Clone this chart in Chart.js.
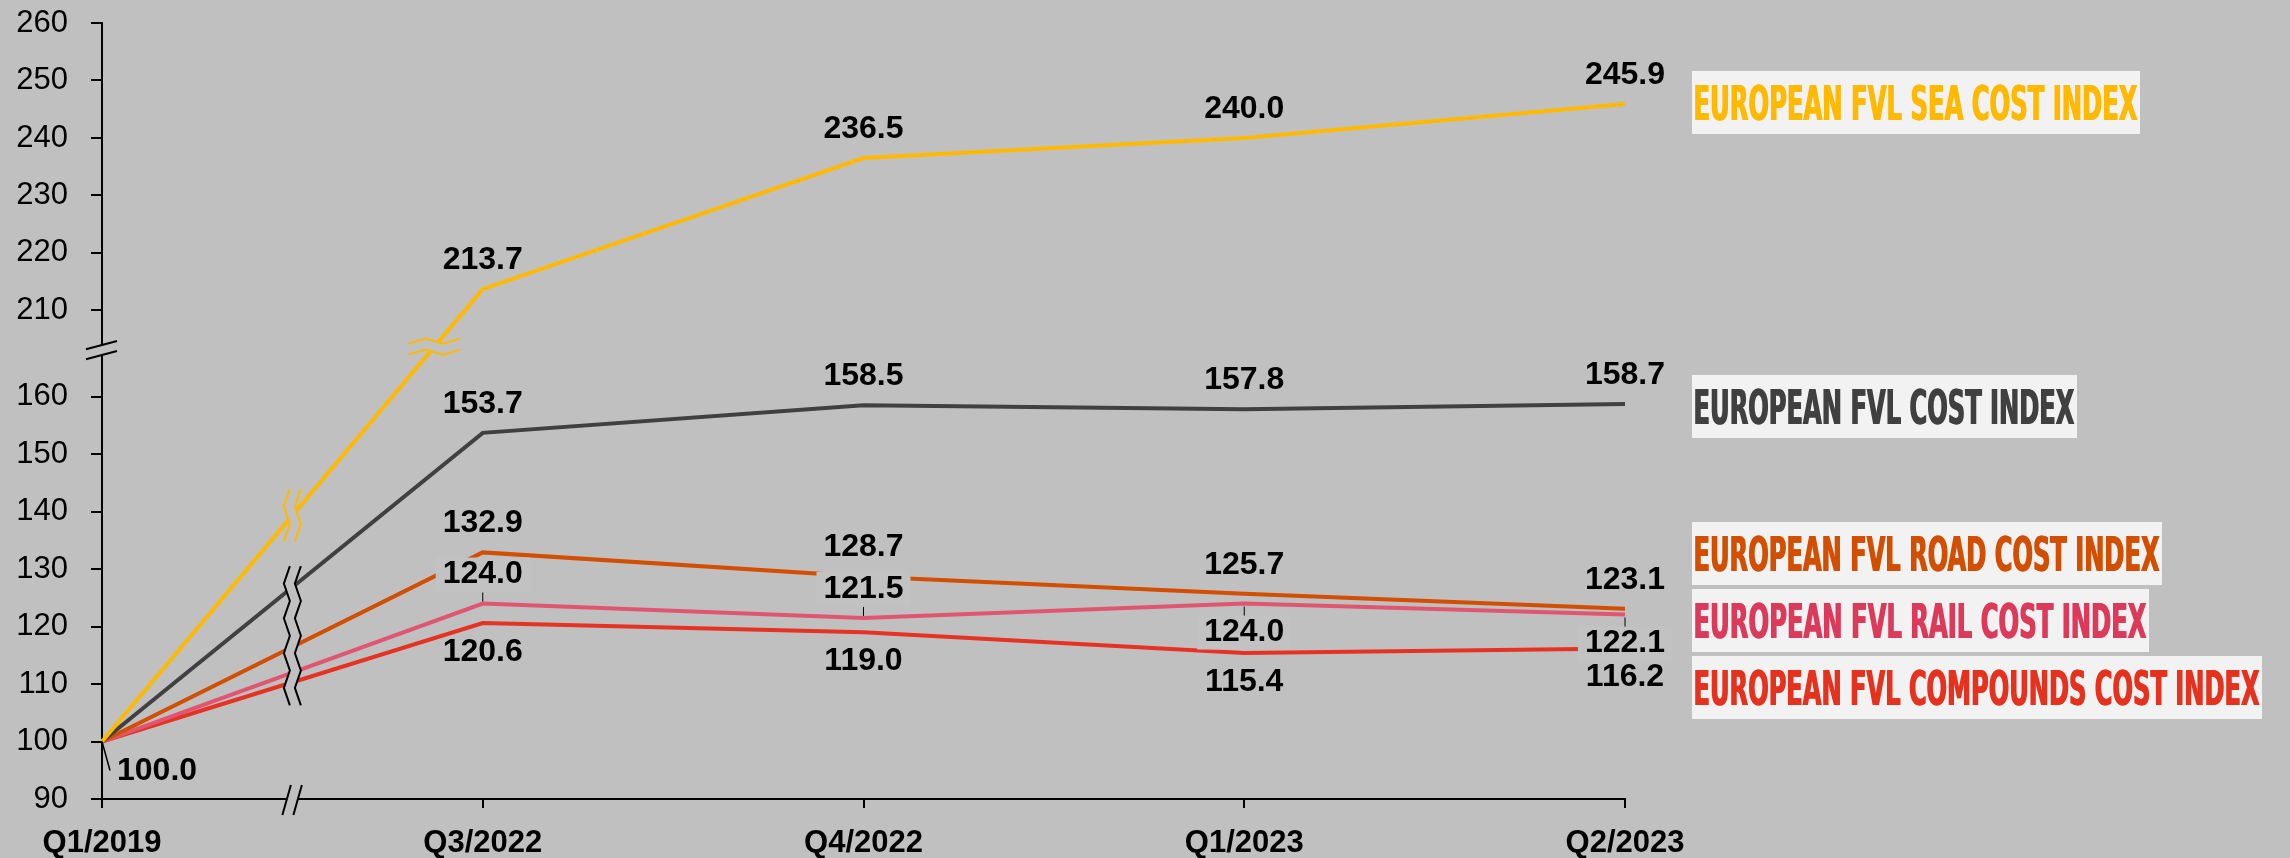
<!DOCTYPE html>
<html>
<head>
<meta charset="utf-8">
<script src="https://cdn.jsdelivr.net/npm/chart.js@4.4.0/dist/chart.umd.min.js"></script>
<style>
  html, body { margin: 0; padding: 0; background: #c0c0c0; }
  #wrap { width: 2290px; height: 858px; }
</style>
</head>
<body>
<div id="wrap"><canvas id="chart" width="2290" height="858"></canvas></div>
<script>
// data
const quarters = ["Q1/2019", "Q3/2022", "Q4/2022", "Q1/2023", "Q2/2023"];
const seaIndex = [100.0, 213.7, 236.5, 240.0, 245.9];
const costIndex = [100.0, 153.7, 158.5, 157.8, 158.7];
const roadIndex = [100.0, 132.9, 128.7, 125.7, 123.1];
const railIndex = [100.0, 124.0, 121.5, 124.0, 122.1];
const compoundsIndex = [100.0, 120.6, 119.0, 115.4, 116.2];
const seriesNames = [
  "European FVL Sea Cost Index",
  "European FVL Cost Index",
  "European FVL Road Cost Index",
  "European FVL Rail Cost Index",
  "European FVL Compounds Cost Index",
];
const lowerTicks = [90, 100, 110, 120, 130, 140, 150, 160];
const upperTicks = [210, 220, 230, 240, 250, 260];

// broken y axis: everything from 210 up is pulled down by 35
const breakShift = 35;
const toAxis = (v) => (v >= 200 ? v - breakShift : v);
const fromAxis = (v) => (v > 170 ? v + breakShift : v);
const axisBreakAt = 168.7;

// styles
const FONT = '"Liberation Sans", Arial, sans-serif';
const BG = "#c0c0c0";
const lineColors = ["#ffb900", "#404040", "#d24e00", "#e05670", "#e53222"];
const legendColors = ["#ffb900", "#404040", "#d24e00", "#dc3a5a", "#e5321f"];
const legendTop = [71, 375, 522, 589, 656];
const legendWidth = [448, 385, 470, 457, 570];
const labelSides = [
  ["", "up", "up", "up", "up"],
  ["", "up", "up", "up", "up"],
  ["", "up", "up", "up", "up"],
  ["", "up", "up", "down", "down"],
  ["corner", "down", "down", "down", "down"],
];

function zigPath(ctx, pts) {
  ctx.moveTo(pts[0][0], pts[0][1]);
  for (let k = 1; k < pts.length; k++) ctx.lineTo(pts[k][0], pts[k][1]);
}

// two vertical zigzags with the lines cut out between them
function vGap(ctx, cx, top, bottom, color) {
  const n = Math.max(2, Math.round((bottom - top) / 17.5));
  const left = [], right = [];
  for (let k = 0; k <= n; k++) {
    const yy = top + (k * (bottom - top)) / n;
    const a = k % 2 === 0 ? 3 : -3;
    left.push([cx - 5.5 + a, yy]);
    right.push([cx + 5.5 + a, yy]);
  }
  ctx.beginPath();
  zigPath(ctx, left);
  right.slice().reverse().forEach((p) => ctx.lineTo(p[0], p[1]));
  ctx.closePath();
  ctx.fillStyle = BG;
  ctx.fill();
  ctx.strokeStyle = color;
  ctx.lineWidth = 2;
  ctx.beginPath(); zigPath(ctx, left); ctx.stroke();
  ctx.beginPath(); zigPath(ctx, right); ctx.stroke();
}

// two horizontal zigzags
function hGap(ctx, cx, cy, color) {
  const upper = [], lower = [];
  for (let k = 0; k <= 3; k++) {
    const xx = cx - 26 + k * 17.3;
    const a = k % 2 === 0 ? 2.5 : -2.5;
    upper.push([xx, cy - 5.5 + a]);
    lower.push([xx, cy + 5.5 + a]);
  }
  ctx.beginPath();
  zigPath(ctx, upper);
  lower.slice().reverse().forEach((p) => ctx.lineTo(p[0], p[1]));
  ctx.closePath();
  ctx.fillStyle = BG;
  ctx.fill();
  ctx.strokeStyle = color;
  ctx.lineWidth = 2;
  ctx.beginPath(); zigPath(ctx, upper); ctx.stroke();
  ctx.beginPath(); zigPath(ctx, lower); ctx.stroke();
}

function slashPair(ctx, a1, a2, b1, b2) {
  ctx.beginPath();
  ctx.moveTo(a1[0], a1[1]); ctx.lineTo(a2[0], a2[1]);
  ctx.lineTo(b2[0], b2[1]); ctx.lineTo(b1[0], b1[1]);
  ctx.closePath();
  ctx.fillStyle = BG;
  ctx.fill();
  ctx.strokeStyle = "#000";
  ctx.lineWidth = 2;
  ctx.beginPath(); ctx.moveTo(a1[0], a1[1]); ctx.lineTo(a2[0], a2[1]); ctx.stroke();
  ctx.beginPath(); ctx.moveTo(b1[0], b1[1]); ctx.lineTo(b2[0], b2[1]); ctx.stroke();
}

const decorPlugin = {
  id: "decor",
  beforeDraw(chart) {
    const ctx = chart.ctx;
    ctx.save();
    ctx.fillStyle = BG;
    ctx.fillRect(0, 0, chart.width, chart.height);
    ctx.restore();
  },
  afterDatasetsDraw(chart) {
    const ctx = chart.ctx;
    const { x, y } = chart.scales;
    const metas = chart.data.datasets.map((d, i) => chart.getDatasetMeta(i).data);
    ctx.save();

    // breaks between Q1/2019 and Q3/2022
    const xm = (x.getPixelForValue(0) + x.getPixelForValue(1)) / 2;
    const midY = (i) => (metas[i][0].y + metas[i][1].y) / 2;
    const others = [1, 2, 3, 4].map(midY);
    vGap(ctx, xm, Math.min(...others) - 21, Math.max(...others) + 23, "#000");
    vGap(ctx, xm, midY(0) - 26, midY(0) + 26, lineColors[0]);

    // sea line crosses the y-axis break
    const yb = y.getPixelForValue(axisBreakAt);
    const p0 = metas[0][0], p1 = metas[0][1];
    const t = (yb - p0.y) / (p1.y - p0.y);
    hGap(ctx, p0.x + t * (p1.x - p0.x), yb, lineColors[0]);

    // y-axis break marks
    const ax = chart.chartArea.left;
    slashPair(ctx, [ax - 16, yb - 1.5 + 4.2], [ax + 15, yb - 1.5 - 4.2],
      [ax - 16, yb + 10 + 4.2 - 1.5], [ax + 15, yb + 10 - 4.2 - 1.5]);

    // x-axis break marks
    const by = chart.chartArea.bottom;
    slashPair(ctx, [xm - 10, by + 16], [xm - 1.5, by - 14], [xm + 1, by + 16], [xm + 9.5, by - 14]);

    // value labels
    ctx.font = "bold 32px " + FONT;
    ctx.textBaseline = "middle";
    const jobs = [];
    chart.data.datasets.forEach((ds, i) => {
      ds.values.forEach((v, j) => {
        const side = labelSides[i][j];
        if (!side) return;
        const p = metas[i][j];
        const txt = v.toFixed(1);
        if (side === "corner") {
          ctx.strokeStyle = "#000";
          ctx.lineWidth = 1.5;
          ctx.beginPath(); ctx.moveTo(p.x, p.y); ctx.lineTo(p.x + 8, p.y + 29); ctx.stroke();
          jobs.push([txt, p.x + 15, p.y + 30, "left"]);
          return;
        }
        const up = side === "up";
        const ly = p.y + (up ? -29 : 29);
        if (ds.boxedLabels) {
          const w = ctx.measureText(txt).width + 14;
          ctx.fillStyle = "#c2c2c2";
          ctx.fillRect(p.x - w / 2, ly - 17, w, 34);
          ctx.strokeStyle = "#000";
          ctx.lineWidth = 1;
          ctx.beginPath();
          if (up) { ctx.moveTo(p.x, p.y - 11); ctx.lineTo(p.x, p.y - 2); }
          else { ctx.moveTo(p.x, p.y + 3); ctx.lineTo(p.x, p.y + 12); }
          ctx.stroke();
        }
        jobs.push([txt, p.x, ly, "center"]);
      });
    });
    ctx.fillStyle = "#000";
    jobs.forEach((jb) => {
      ctx.textAlign = jb[3];
      ctx.fillText(jb[0], jb[1], jb[2]);
    });
    ctx.restore();
  },
  afterDraw(chart) {
    // series names in boxes to the right
    const ctx = chart.ctx;
    const left = chart.chartArea.right + 67;
    ctx.save();
    seriesNames.forEach((name, i) => {
      const top = legendTop[i], w = legendWidth[i], h = 63;
      ctx.fillStyle = "#f2f2f2";
      ctx.fillRect(left, top, w, h);
      const txt = name.toUpperCase();
      ctx.font = 'bold 48px "Liberation Sans Narrow", "DejaVu Sans Condensed", sans-serif';
      ctx.textBaseline = "alphabetic";
      ctx.textAlign = "left";
      const mw = ctx.measureText(txt).width;
      const sx = (w - 4) / mw;
      ctx.fillStyle = legendColors[i];
      for (let d = 0; d <= 1; d++) {
        ctx.save();
        ctx.translate(left + 1 + d, top + 49);
        ctx.scale(sx, 1);
        ctx.fillText(txt, 0, 0);
        ctx.restore();
      }
    });
    ctx.restore();
  },
};

function series(i, values, extra) {
  return Object.assign({
    label: seriesNames[i],
    values: values,
    data: values.map(toAxis),
    borderColor: lineColors[i],
    borderWidth: 4,
    pointRadius: 0,
    tension: 0,
    fill: false,
  }, extra || {});
}

new Chart(document.getElementById("chart"), {
  type: "line",
  data: {
    labels: quarters,
    datasets: [
      series(0, seaIndex),
      series(1, costIndex),
      series(2, roadIndex),
      series(3, railIndex, { boxedLabels: true }),
      series(4, compoundsIndex),
    ],
  },
  options: {
    responsive: false,
    devicePixelRatio: 1,
    animation: false,
    layout: { padding: { top: 23, right: 665, bottom: 0, left: 0 } },
    plugins: { legend: { display: false }, tooltip: { enabled: false } },
    scales: {
      x: {
        offset: false,
        afterFit: (s) => { s.height = 59; },
        border: { display: true, color: "#000", width: 2 },
        grid: { drawOnChartArea: false, tickLength: 9, color: "#000", lineWidth: 2 },
        ticks: {
          padding: 17, color: "#000", maxRotation: 0, autoSkip: false,
          font: { family: FONT, size: 31, weight: "bold" },
        },
      },
      y: {
        min: 90,
        max: 225,
        afterFit: (s) => {
          s.width = 102;
          s.paddingTop = 0;
          s.paddingBottom = 0;
        },
        afterBuildTicks: (s) => {
          s.ticks = lowerTicks.concat(upperTicks.map(toAxis)).map((v) => ({ value: v }));
        },
        border: { display: true, color: "#000", width: 2 },
        grid: { drawOnChartArea: false, tickLength: 11, color: "#000", lineWidth: 2 },
        ticks: {
          padding: 23, color: "#000", autoSkip: false,
          font: { family: FONT, size: 31 },
          callback: (v) => String(fromAxis(v)),
        },
      },
    },
  },
  plugins: [decorPlugin],
});
</script>
</body>
</html>
